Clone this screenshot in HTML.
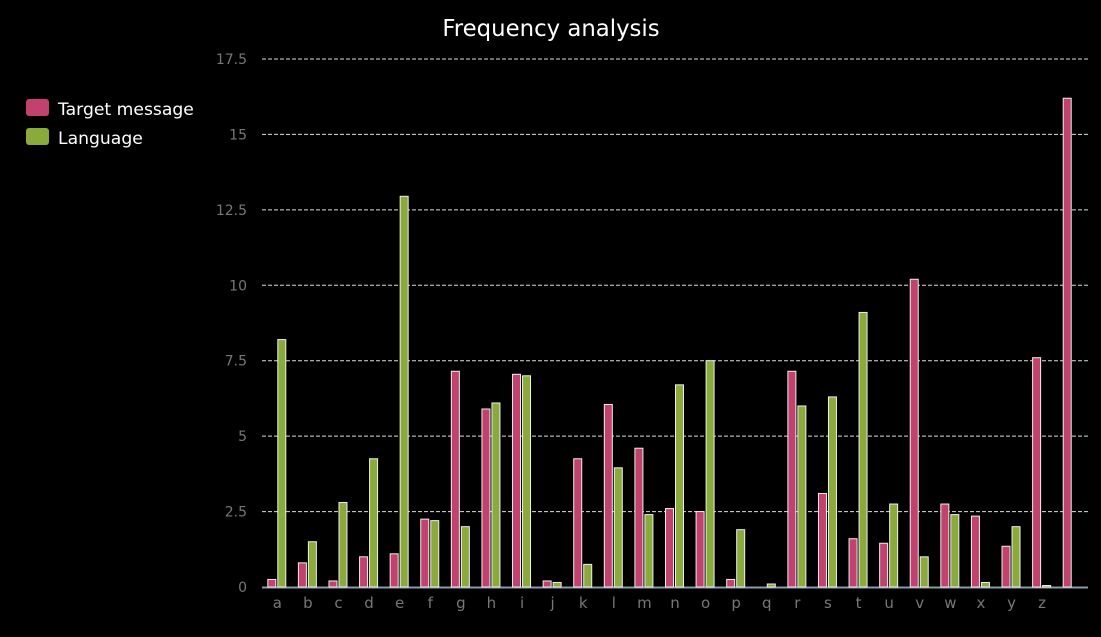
<!DOCTYPE html>
<html><head><meta charset="utf-8"><style>
body{margin:0;background:#000;width:1101px;height:633px;overflow:hidden;font-family:"DejaVu Sans",sans-serif}
</style></head><body>
<svg width="1101" height="633" font-family="DejaVu Sans, sans-serif">
<text x="551" y="36" text-anchor="middle" fill="#fff" font-size="22.8">Frequency analysis</text>
<g>
<rect x="26" y="99" width="23" height="17" rx="3" fill="#c2426f"/>
<text x="58" y="115" fill="#fff" font-size="17.2">Target message</text>
<rect x="26" y="128" width="23" height="17" rx="3" fill="#8aaa3c"/>
<text x="58" y="144" fill="#fff" font-size="17.2">Language</text>
</g>
<g id="grid"></g><g id="bars"></g><g id="xl"></g>
</svg>
<script>
const categories=["a","b","c","d","e","f","g","h","i","j","k","l","m","n","o","p","q","r","s","t","u","v","w","x","y","z"," "];
const targetValues=[0.25,0.8,0.2,1.0,1.1,2.25,7.15,5.9,7.05,0.2,4.25,6.05,4.6,2.6,2.5,0.25,0,7.15,3.1,1.6,1.45,10.2,2.75,2.35,1.35,7.6,16.2];
const languageValues=[8.2,1.5,2.8,4.25,12.95,2.2,2.0,6.1,7.0,0.15,0.75,3.95,2.4,6.7,7.5,1.9,0.1,6.0,6.3,9.1,2.75,1.0,2.4,0.15,2.0,0.05,0];
const yTicks=[0,2.5,5,7.5,10,12.5,15,17.5];
const yTickLabels=["0","2.5","5","7.5","10","12.5","15","17.5"];
const NS="http://www.w3.org/2000/svg";
const X0=262,X1=1088,Y0=587,Y1=59,YMAX=17.5;
const band=(X1-X0)/categories.length;
const y=v=>Y0-v/YMAX*(Y0-Y1);
const xc=i=>X0+band*(i+0.5);
function mk(t,a,p){const e=document.createElementNS(NS,t);for(const k in a)e.setAttribute(k,a[k]);p.appendChild(e);return e;}
const grid=document.getElementById('grid');
yTicks.forEach((t,i)=>{
 if(t>0){const l=mk('line',{x1:X0,x2:X1,y1:y(t),y2:y(t),stroke:'#ddd','stroke-dasharray':'4,2','stroke-width':1},grid);
 
 }
 const tx=mk('text',{x:247,y:y(t)+5,'text-anchor':'end',fill:'#777','font-size':14},grid);
 tx.textContent=yTickLabels[i];
 
 
});
const ax=mk('line',{x1:X0,x2:X1,y1:Y0+0.5,y2:Y0+0.5,stroke:'#8a9aa8','stroke-width':2},grid);


const bars=document.getElementById('bars'),xl=document.getElementById('xl');
categories.forEach((c,i)=>{
 const cx=xc(i);
 const b1=mk('rect',{x:cx-9.5,y:y(targetValues[i]),width:8,height:Y0-y(targetValues[i]),fill:'#c2426f',stroke:'#eee','stroke-width':1},bars);
 
 
 const b2=mk('rect',{x:cx+0.5,y:y(languageValues[i]),width:8,height:Y0-y(languageValues[i]),fill:'#8aaa3c',stroke:'#eee','stroke-width':1},bars);
 
 
 const t=mk('text',{x:cx,y:608,'text-anchor':'middle',fill:'#777','font-size':15},xl);
 t.textContent=c;
 
 
});
</script>
</body></html>
